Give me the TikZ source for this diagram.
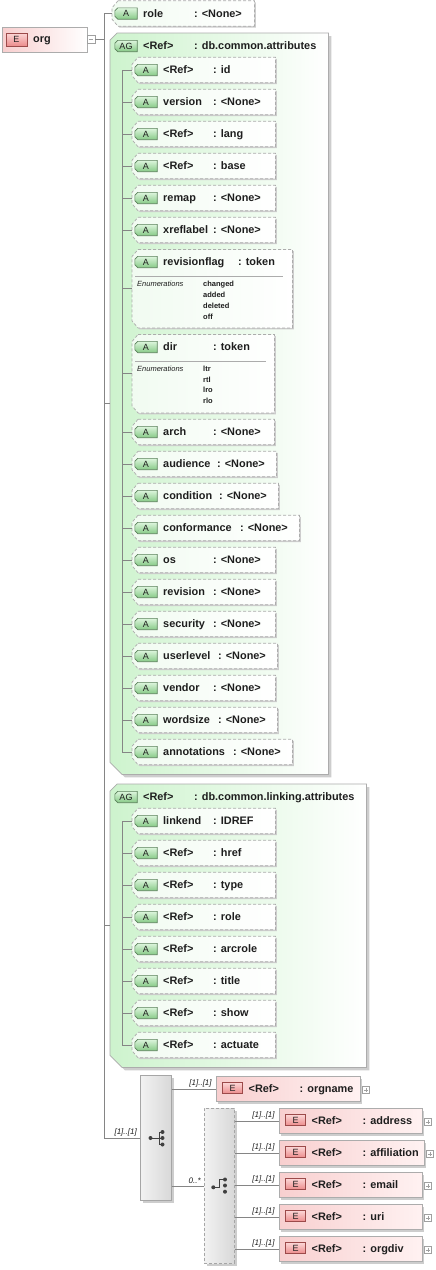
\documentclass[tikz,border=0pt]{standalone}
\usepackage{fontspec}
\setmainfont{Liberation Sans}
\usetikzlibrary{calc}
\definecolor{txtc}{HTML}{1E1E1E}
\definecolor{lnc}{HTML}{858585}
\definecolor{bordc}{HTML}{ACACAC}
\definecolor{agl}{HTML}{CDF3CD}
\definecolor{attrl}{HTML}{F1FBF1}
\definecolor{pinkl}{HTML}{F8CFCF}
\definecolor{pinkr}{HTML}{FFF2F2}
\definecolor{gbt}{HTML}{DDF6DD}
\definecolor{gbb}{HTML}{86C986}
\definecolor{gbd}{HTML}{5A805A}
\definecolor{rbt}{HTML}{FCD6D6}
\definecolor{rbb}{HTML}{EC8C8C}
\definecolor{rbd}{HTML}{9C4A4A}
\definecolor{shc}{HTML}{CDCDCD}
\definecolor{pmc}{HTML}{A0A0A0}
\definecolor{cmpd}{HTML}{A6A6A6}
\definecolor{cmpl}{HTML}{F2F2F2}
\definecolor{cmpr}{HTML}{D8D8D8}
\tikzset{
  txt/.style={anchor=west, inner sep=0pt, text height=7.8pt, text depth=0pt, font=\fontsize{10.9}{12}\selectfont\bfseries, text=txtc},
  bdg/.style={inner sep=0pt, font=\fontsize{9}{10}\selectfont, text=txtc},
  lbl/.style={inner sep=0pt, font=\fontsize{8}{9}\selectfont\itshape, text=txtc},
  enumh/.style={anchor=west, inner sep=0pt, text height=5.5pt, text depth=0pt, font=\fontsize{7.5}{9}\selectfont\itshape, text=txtc},
  enumv/.style={anchor=west, inner sep=0pt, text height=5.5pt, text depth=0pt, font=\fontsize{7.5}{9}\selectfont\bfseries, text=txtc},
  conn/.style={draw=lnc, line width=0.7pt},
  hold/.style={draw=none, inner sep=0pt, minimum height=25},
  attrfill/.style={left color=attrl, right color=white, draw=bordc, line width=0.7pt, dash pattern=on 3pt off 2pt},
  shadowfill/.style={fill=shc, draw=none, transform canvas={xshift=1.5pt,yshift=-1.5pt}},
  agshadow/.style={fill=shc, draw=none, transform canvas={xshift=3pt,yshift=-3pt}},
  agfill/.style={left color=agl, right color=white, draw=bordc, line width=0.7pt},
  badgefill/.style={top color=gbt, bottom color=gbb, draw=gbd, line width=0.6pt},
  ebadge/.style={draw=rbd, top color=rbt, bottom color=rbb, minimum width=20, minimum height=11, inner sep=0pt, line width=0.6pt, font=\fontsize{9}{10}\selectfont, text=txtc},
  elbox/.style={draw=bordc, left color=pinkl, right color=pinkr, line width=0.7pt, inner sep=0pt, minimum height=25},
  pm/.style={draw=pmc, fill=white, minimum size=7, inner sep=0pt, line width=0.5pt},
  cmpbox/.style={draw=cmpd, left color=cmpl, right color=cmpr, line width=0.7pt, inner sep=0pt},
  sepline/.style={draw=bordc, line width=0.7pt},
  icon/.style={draw=txtc!85, line width=0.8pt},
}
% chamfered outline of a node: [style]{node}{x chamfer}{y chamfer}
\newcommand\chamf[4][]{%
  \path[#1] ([xshift=#3pt]#2.north west) -- (#2.north east) -- (#2.south east)
    -- ([xshift=#3pt]#2.south west) -- ([yshift=#4pt]#2.south west)
    -- ([yshift=-#4pt]#2.north west) -- cycle;}
% badge: name, cx, cy, width, text
\newcommand\abadge[5]{%
  \node[draw=none, inner sep=0pt, minimum width=#4, minimum height=11] (#1) at (#2,#3) {};
  \chamf[badgefill]{#1}{3}{3}
  \node[bdg] at (#1) {#5};}
% attribute row: name, left, cy, right, label, colon x, value
\newcommand\attrrow[7]{%
  \pgfmathsetmacro\aw{#4-#2}%
  \node[hold, minimum width=\aw, anchor=west] (#1) at (#2,#3) {};
  \chamf[shadowfill]{#1}{6}{7}
  \chamf[attrfill]{#1}{6}{7}
  \abadge{#1-b}{#2+14}{#3}{22}{A}
  \node[txt] (#1-n) at (#2+31,#3) {#5};
  \node[txt] (#1-v) at (#6,#3) {: #7};}
% element: name, left, cy, right, type name
\newcommand\elem[5]{%
  \pgfmathsetmacro\ew{#4-#2}%
  \fill[shc] (#2+2,#3-10.5) rectangle (#4+2,#3+14.5);
  \node[elbox, minimum width=\ew, anchor=west] (#1) at (#2,#3) {};
  \node[ebadge] (#1-b) at (#2+16.5,#3-1) {E};
  \node[txt] (#1-r) at (#2+32.5,#3) {<Ref>};
  \node[txt] (#1-v) at (#2+83.5,#3) {: #5};
  \node[pm] (#1-p) at (#4+6,#3+1) {};
  \draw[draw=pmc, line width=0.5pt] (#4+3.8,#3+1) -- (#4+8.2,#3+1) (#4+6,#3-1.2) -- (#4+6,#3+3.2);}
\begin{document}
\begin{tikzpicture}[x=1pt,y=-1pt]
\useasboundingbox (0,0) rectangle (436,1270);
\fill[white] (0,0) rectangle (436,1270);

% ---------- org ----------
\node[draw=bordc, left color=pinkl, right color=white, line width=0.7pt, inner sep=0pt,
      minimum width=85, minimum height=25, anchor=north west] (org) at (2,27) {};
\node[ebadge, minimum width=21, minimum height=13] (org-b) at (16.5,39.5) {E};
\node[txt] (org-t) at (33,38.5) {org};
\node[pm, minimum size=8] (orgm) at (91,39) {};
\draw[draw=pmc, line width=0.5pt] (88.6,39) -- (93.4,39);

% ---------- role ----------
\attrrow{a-role}{112}{13.5}{254}{role}{194}{<None>}

% ---------- AG 1 ----------
\node[draw=none, inner sep=0pt, minimum width=218, minimum height=741, anchor=north west] (ag1) at (110,33) {};
\path[agshadow] ([xshift=7pt]ag1.north west) -- (ag1.north east) -- (ag1.south east)
   -- ([xshift=12pt]ag1.south west) -- ([yshift=12pt]ag1.south west) -- ([yshift=-7pt]ag1.north west) -- cycle;
\path[agfill] ([xshift=7pt]ag1.north west) -- (ag1.north east) -- (ag1.south east)
   -- ([xshift=12pt]ag1.south west) -- ([yshift=12pt]ag1.south west) -- ([yshift=-7pt]ag1.north west) -- cycle;
\abadge{ag1-b}{126}{46}{22}{AG}
\node[txt] (ag1-r) at (143,45.5) {<Ref>};
\node[txt] (ag1-v) at (194,45.5) {: db.common.attributes};

\attrrow{id}{132}{70}{275}{<Ref>}{213}{id}
\attrrow{version}{132}{102}{275}{version}{213}{<None>}
\attrrow{lang}{132}{134}{275}{<Ref>}{213}{lang}
\attrrow{base}{132}{166}{275}{<Ref>}{213}{base}
\attrrow{remap}{132}{198}{275}{remap}{213}{<None>}
\attrrow{xreflabel}{132}{230}{275}{xreflabel}{213}{<None>}

% revisionflag (enumerated)
\node[draw=none, inner sep=0pt, minimum width=160, minimum height=78, anchor=north west] (revisionflag) at (132,249.5) {};
\chamf[shadowfill]{revisionflag}{6}{7}
\chamf[attrfill]{revisionflag}{6}{7}
\abadge{revisionflag-b}{146}{262}{22}{A}
\node[txt] (revisionflag-n) at (163,262) {revisionflag};
\node[txt] (revisionflag-v) at (238,262) {: token};
\draw[sepline] (135,276.5) -- (283,276.5);
\node[enumh] (revisionflag-e) at (137,284) {Enumerations};
\node[enumv] (rf1) at (203,284) {changed};
\node[enumv] (rf2) at (203,294.8) {added};
\node[enumv] (rf3) at (203,305.6) {deleted};
\node[enumv] (rf4) at (203,316.4) {off};

% dir (enumerated)
\node[draw=none, inner sep=0pt, minimum width=142, minimum height=78, anchor=north west] (dir) at (132,334.5) {};
\chamf[shadowfill]{dir}{6}{7}
\chamf[attrfill]{dir}{6}{7}
\abadge{dir-b}{146}{347}{22}{A}
\node[txt] (dir-n) at (163,347) {dir};
\node[txt] (dir-v) at (213,347) {: token};
\draw[sepline] (135,361.5) -- (266,361.5);
\node[enumh] (dir-e) at (137,368.5) {Enumerations};
\node[enumv] (d1) at (203,368.5) {ltr};
\node[enumv] (d2) at (203,379.3) {rtl};
\node[enumv] (d3) at (203,390.1) {lro};
\node[enumv] (d4) at (203,400.9) {rlo};

\attrrow{arch}{132}{432}{274}{arch}{213}{<None>}
\attrrow{audience}{132}{464}{276}{audience}{217}{<None>}
\attrrow{condition}{132}{496}{278}{condition}{219}{<None>}
\attrrow{conformance}{132}{528}{299}{conformance}{240}{<None>}
\attrrow{os}{132}{560}{275}{os}{213}{<None>}
\attrrow{revision}{132}{592}{275}{revision}{213}{<None>}
\attrrow{security}{132}{624}{275}{security}{213}{<None>}
\attrrow{userlevel}{132}{656}{277}{userlevel}{218}{<None>}
\attrrow{vendor}{132}{688}{275}{vendor}{213}{<None>}
\attrrow{wordsize}{132}{720}{277}{wordsize}{218}{<None>}
\attrrow{annotations}{132}{752}{292}{annotations}{233}{<None>}

% ---------- AG 2 ----------
\node[draw=none, inner sep=0pt, minimum width=256, minimum height=283, anchor=north west] (ag2) at (110,784) {};
\path[agshadow] ([xshift=7pt]ag2.north west) -- (ag2.north east) -- (ag2.south east)
   -- ([xshift=12pt]ag2.south west) -- ([yshift=12pt]ag2.south west) -- ([yshift=-7pt]ag2.north west) -- cycle;
\path[agfill] ([xshift=7pt]ag2.north west) -- (ag2.north east) -- (ag2.south east)
   -- ([xshift=12pt]ag2.south west) -- ([yshift=12pt]ag2.south west) -- ([yshift=-7pt]ag2.north west) -- cycle;
\abadge{ag2-b}{126}{797}{22}{AG}
\node[txt] (ag2-r) at (143,796.5) {<Ref>};
\node[txt] (ag2-v) at (194,796.5) {: db.common.linking.attributes};

\attrrow{linkend}{132}{821}{275}{linkend}{213}{IDREF}
\attrrow{href}{132}{853}{275}{<Ref>}{213}{href}
\attrrow{type}{132}{885}{275}{<Ref>}{213}{type}
\attrrow{l-role}{132}{917}{275}{<Ref>}{213}{role}
\attrrow{arcrole}{132}{949}{275}{<Ref>}{213}{arcrole}
\attrrow{title}{132}{981}{275}{<Ref>}{213}{title}
\attrrow{show}{132}{1013}{275}{<Ref>}{213}{show}
\attrrow{actuate}{132}{1045}{275}{<Ref>}{213}{actuate}

% ---------- sequence & choice ----------
\fill[shc] (142.5,1077.5) rectangle (173.5,1202.5);
\node[cmpbox, minimum width=31, minimum height=125, anchor=north west] (seq) at (140,1075) {};
\fill[shc] (206.5,1110.5) rectangle (236.5,1265.5);
\node[cmpbox, dash pattern=on 3pt off 2pt, minimum width=30, minimum height=155, anchor=north west] (choice) at (204,1108) {};

% sequence icon
\draw[icon] (150.5,1138) -- (159,1138) (159,1132) -- (159,1144.5)
            (159,1132) -- (162.5,1132) (159,1138) -- (162.5,1138) (159,1144.5) -- (162.5,1144.5);
\fill[txtc!85] (150.5,1138) circle (2) (162.5,1132) circle (2) (162.5,1138) circle (2) (162.5,1144.5) circle (2);
% choice icon
\draw[icon] (213.3,1187.3) -- (219,1187.3) -- (219,1179.5) -- (225,1179.5);
\fill[txtc!85] (213.3,1187.3) circle (2) (225,1179.5) circle (2) (225,1185.5) circle (2) (225,1191.7) circle (2);

\elem{orgname}{216}{1089}{360}{orgname}
\elem{address}{279}{1121}{422}{address}
\elem{affiliation}{279}{1153}{424}{affiliation}
\elem{email}{279}{1185}{422}{email}
\elem{uri}{279}{1217}{422}{uri}
\elem{orgdiv}{279}{1249}{422}{orgdiv}

% ---------- connectors ----------
\coordinate (tk) at (104,0);
\draw[conn] (a-role.west) -| (tk |- seq.west) -- (seq.west);
\draw[conn] (orgm.east) -- (orgm.east -| tk);
\draw[conn] (ag1.west) -- (ag1.west -| tk);
\draw[conn] (ag2.west) -- (ag2.west -| tk);
\node[lbl, anchor=south east] (seq-l) at ([xshift=-3pt,yshift=1.5pt]seq.west) {[1]..[1]};

\coordinate (ik) at (122,0);
\draw[conn] (id.west) -| (ik |- annotations.west) -- (annotations.west);
\foreach \nn in {version,lang,base,remap,xreflabel,revisionflag,dir,arch,audience,condition,conformance,os,revision,security,userlevel,vendor,wordsize}
  \draw[conn] (\nn.west) -- (\nn.west -| ik);
\draw[conn] (linkend.west) -| (ik |- actuate.west) -- (actuate.west);
\foreach \nn in {href,type,l-role,arcrole,title,show}
  \draw[conn] (\nn.west) -- (\nn.west -| ik);

\draw[conn] (seq.east |- orgname.west) -- (orgname.west)
  node[lbl, anchor=south east, pos=1, xshift=-4pt, yshift=1.5pt] {[1]..[1]};
\draw[conn] (seq.east |- choice.west) -- (choice.west)
  node[lbl, anchor=south east, pos=1, xshift=-3pt, yshift=1.5pt] {0..*};
\foreach \nn in {address,affiliation,email,uri,orgdiv}
  \draw[conn] (choice.east |- \nn.west) -- (\nn.west)
    node[lbl, anchor=south east, pos=1, xshift=-4pt, yshift=1.5pt] {[1]..[1]};
\end{tikzpicture}
\end{document}
